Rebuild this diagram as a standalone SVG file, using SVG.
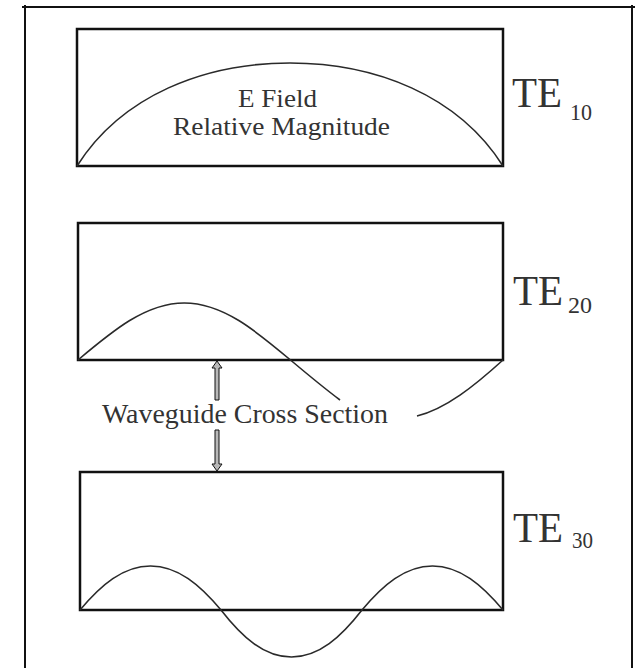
<svg xmlns="http://www.w3.org/2000/svg" width="639" height="668" viewBox="0 0 639 668">
<style>
.frame{stroke:#111;stroke-width:2;fill:none}
.box{stroke:#111;stroke-width:2.5;fill:none}
.wave{stroke:#2a2a2a;stroke-width:1.6;fill:none}
.lbl{font-family:"Liberation Serif","Times New Roman",serif;fill:#333}
.arrow{fill:#b8b8b8;stroke:#111;stroke-width:1}
</style>
<rect width="639" height="668" fill="#fff"/>
<g id="frame">
<line class="frame" x1="22" y1="7" x2="635" y2="7"/>
<line class="frame" x1="25" y1="5" x2="25" y2="668"/>
<line class="frame" x1="632" y1="5" x2="632" y2="668"/>
</g>
<g id="te10">
<rect class="box" x="77" y="29" width="426" height="137"/>
<path class="wave" d="M77,166 C122,95 205,63 290,63 C375,63 458,95 503,166"/>
<text class="lbl" x="277.5" y="107" font-size="26" text-anchor="middle" textLength="79" lengthAdjust="spacingAndGlyphs">E Field</text>
<text class="lbl" x="281.5" y="135" font-size="26" text-anchor="middle" textLength="217" lengthAdjust="spacingAndGlyphs">Relative Magnitude</text>
<text class="lbl" x="512" y="107" font-size="42" textLength="50" lengthAdjust="spacingAndGlyphs">TE</text>
<text class="lbl" x="570" y="120" font-size="23" textLength="22" lengthAdjust="spacingAndGlyphs">10</text>
</g>
<g id="te20">
<rect class="box" x="78" y="223" width="425" height="137"/>
<path class="wave" d="M78,360 C112.65,330.8 145.8,303 184.25,303 C222.7,303 255.85,330.8 290.5,360 C307,373.9 323.5,387.6 340,400"/>
<path class="wave" d="M417,416 C445.67,409 474.33,386 503,360"/>
<text class="lbl" x="513" y="305" font-size="42" textLength="50" lengthAdjust="spacingAndGlyphs">TE</text>
<text class="lbl" x="568" y="313" font-size="23" textLength="24" lengthAdjust="spacingAndGlyphs">20</text>
</g>
<g id="te30">
<rect class="box" x="80" y="472" width="423" height="138"/>
<path class="wave" d="M80,610 C101,585 123,566 150.5,566 C178,566 200,585 221,610 C242,637 264,657 291.5,657 C319,657 341,637 362,610 C383,585 405,566 432.5,566 C460,566 482,585 503,610"/>
<text class="lbl" x="513" y="542" font-size="42" textLength="50" lengthAdjust="spacingAndGlyphs">TE</text>
<text class="lbl" x="572" y="548" font-size="23" textLength="21" lengthAdjust="spacingAndGlyphs">30</text>
</g>
<g id="cross-section-label">
<text class="lbl" x="102" y="423" font-size="27" textLength="286" lengthAdjust="spacingAndGlyphs">Waveguide Cross Section</text>
</g>
<g id="connectors">
<polygon class="arrow" points="217,361 222,368 219,368 219,400 215,400 215,368 212,368"/>
<polygon class="arrow" points="217,471 222,464 219,464 219,430 215,430 215,464 212,464"/>
</g>
</svg>
